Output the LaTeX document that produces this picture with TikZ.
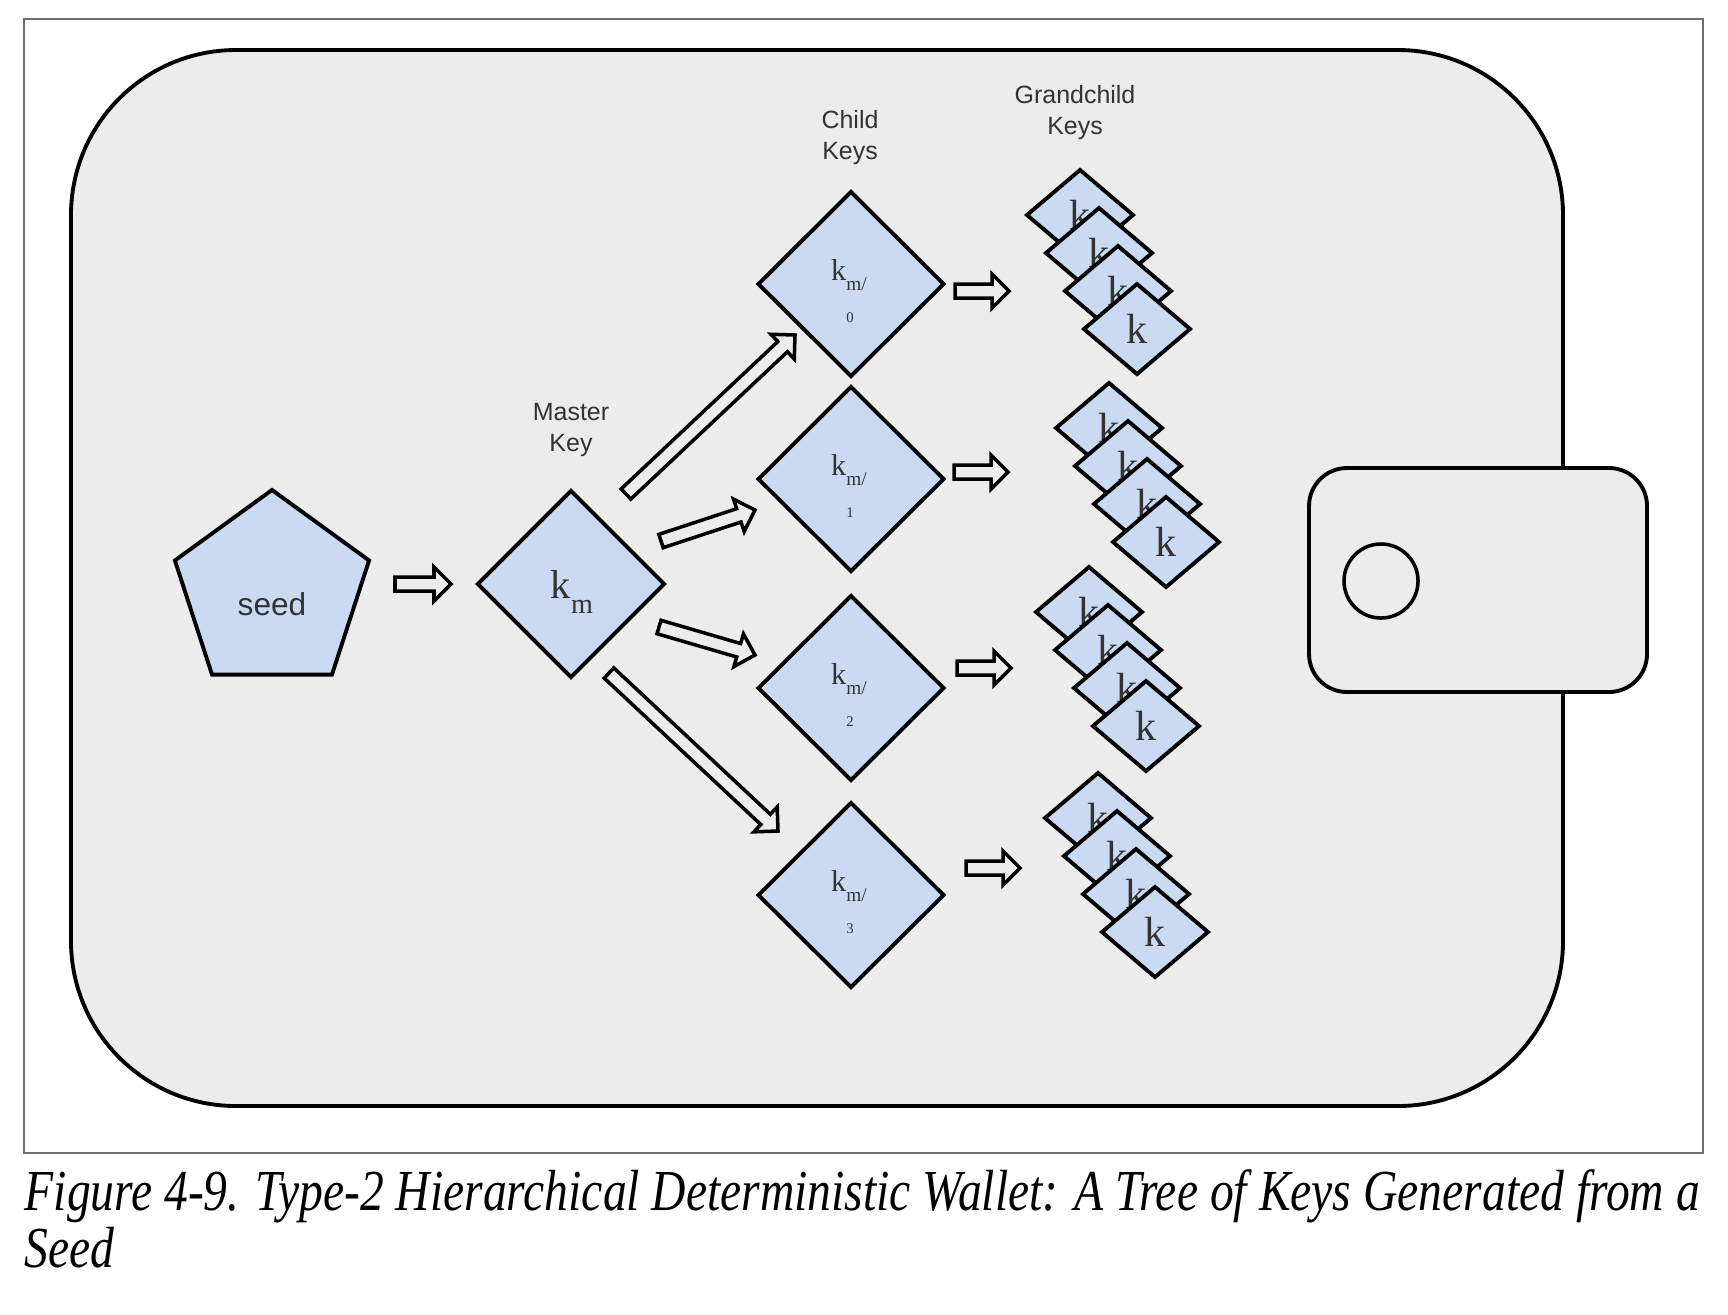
\documentclass[tikz,border=0pt]{standalone}
\usepackage{fontspec}
\setmainfont{Liberation Serif}
\setsansfont{Liberation Sans}
\newfontfamily\capfont[FakeStretch=0.82]{Liberation Serif}
\usetikzlibrary{shapes.geometric,calc}

\definecolor{walletgray}{HTML}{ECECEC}
\definecolor{keyblue}{HTML}{C9DAF2}
\definecolor{framegray}{HTML}{6E6E6E}
\definecolor{textgray}{HTML}{333333}

\tikzset{
  keyshape/.style={diamond, draw=black, fill=keyblue, line width=1.1pt, inner sep=0pt, outer sep=0pt},
  masterkey/.style={keyshape, minimum width=1.86cm, minimum height=1.86cm},
  childkey/.style={keyshape, minimum width=1.85cm, minimum height=1.84cm},
  grandkey/.style={keyshape, minimum width=1.06cm, minimum height=0.90cm, text=textgray, font=\fontsize{12}{12}\selectfont},
  lbl/.style={font=\sffamily\fontsize{7.1}{8.8}\selectfont, text=textgray, align=center, inner sep=0pt, anchor=north},
  keyarrow/.style={draw=black, fill=walletgray, line width=1pt, line join=miter}
}

\newcommand{\hollowarrow}[2]{%
  \coordinate (hb) at ($(#2)!0.17cm!(#1)$);
  \draw[keyarrow] ($(#1)!0.07cm!90:(#2)$) -- ($(hb)!0.07cm!90:(#2)$) -- ($(hb)!0.17cm!90:(#2)$) -- (#2)
    -- ($(hb)!0.17cm!-90:(#2)$) -- ($(hb)!0.07cm!-90:(#2)$) -- ($(#1)!0.07cm!-90:(#2)$) -- cycle;}

\begin{document}
\begin{tikzpicture}[x=0.01cm, y=-0.01cm]
    \useasboundingbox (0,0) rectangle (1728,1314);
    \fill[white] (0,0) rectangle (1728,1314);
    \draw[framegray, line width=0.6pt] (24,19) rectangle (1703,1153);
    \draw[fill=walletgray, line width=1.1pt, rounded corners=1.65cm] (71,50) rectangle (1563,1106);
    \draw[fill=walletgray, line width=1.1pt, rounded corners=0.38cm] (1309,468) rectangle (1647,692);
    \draw[line width=1pt] (1381,581) circle[radius=0.37cm];

    \node[regular polygon, regular polygon sides=5, minimum size=2.04cm, draw, fill=keyblue, line width=1.1pt, inner sep=0pt] (seed) at (272,592) {};
    \node[font=\sffamily\fontsize{9}{9}\selectfont, text=textgray, anchor=base] (seedtext) at (272,615) {seed};

    \node[masterkey] (km) at (571,584) {};
    \node[anchor=base, text=textgray, inner sep=0pt] (kmtext) at (572,598) {\fontsize{11.5}{11.5}\selectfont k\raisebox{-4.3pt}{\fontsize{8}{8}\selectfont m}};
    \node[lbl] (masterlbl) at (571,403) {Master\\Key};
    \node[lbl] (childlbl) at (850,110) {Child\\Keys};
    \node[lbl] (grandlbl) at (1075,85) {Grandchild\\Keys};

    \foreach \i/\y in {0/284,1/479,2/688,3/895} {
        \node[childkey] (c\i) at (851,\y) {};
        \node[anchor=base, text=textgray, inner sep=0pt] (ct\i) at (849,\y-4) {\fontsize{8.6}{8.6}\selectfont k\raisebox{-3.1pt}{\fontsize{5.5}{5.5}\selectfont m/}};
        \node[anchor=base, text=textgray, inner sep=0pt] (cn\i) at (850,\y+38) {\fontsize{4.2}{4.2}\selectfont \i};
    }

    \foreach \i/\x/\y in {0/1137/329,1/1166/542,2/1146/726,3/1155/932} {
        \foreach \j in {3,2,1,0} {
            \node[grandkey] (g\i\j) at (\x-19*\j,\y-38*\j) {k};
        }
    }

    \coordinate (s0) at (395,584);  \coordinate (t0) at (451,584);
    \coordinate (s1) at (626,494);  \coordinate (t1) at (795,335);
    \coordinate (s2) at (661,541);  \coordinate (t2) at (755,510);
    \coordinate (s3) at (659,627);  \coordinate (t3) at (755,655);
    \coordinate (s4) at (609,673);  \coordinate (t4) at (778,831);
    \coordinate (s5) at (955,291);  \coordinate (t5) at (1009,291);
    \coordinate (s6) at (954,472);  \coordinate (t6) at (1008,472);
    \coordinate (s7) at (957,668);  \coordinate (t7) at (1011,668);
    \coordinate (s8) at (966,868);  \coordinate (t8) at (1020,868);
    \foreach \k in {0,...,8} {\hollowarrow{s\k}{t\k}}

    \node[anchor=base west, inner sep=0pt, font=\capfont\itshape\fontsize{16.5}{18}\selectfont] (cap1) at (24,1210) {Figure 4-9. Type-2 Hierarchical Deterministic Wallet: A Tree of Keys Generated from a};
    \node[anchor=base west, inner sep=0pt, font=\capfont\itshape\fontsize{16.5}{18}\selectfont] (cap2) at (24,1267) {Seed};
\end{tikzpicture}
\end{document}
